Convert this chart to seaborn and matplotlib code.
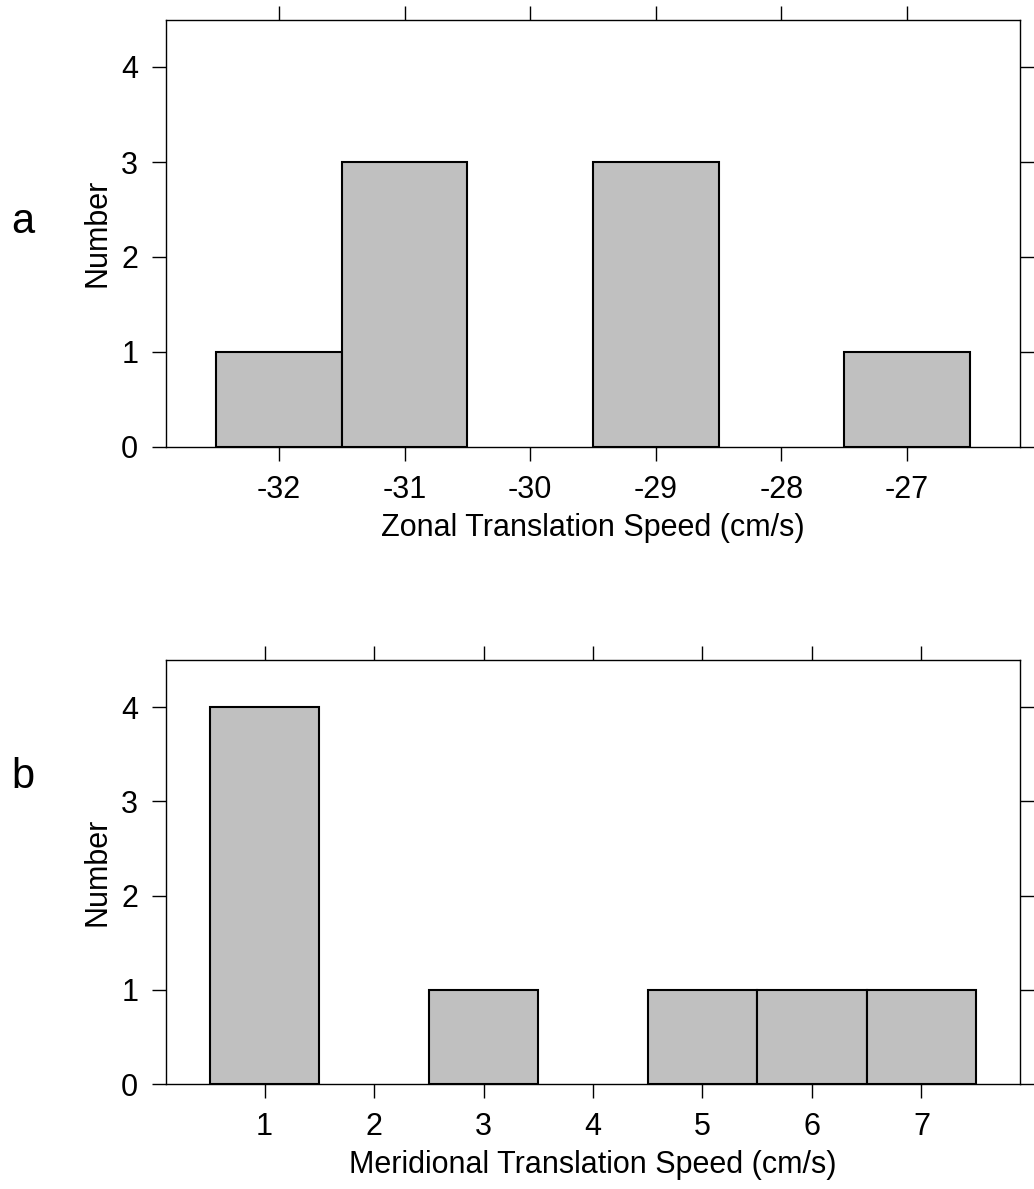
import matplotlib
matplotlib.use("Agg")
import matplotlib.pyplot as plt
import seaborn as sns
import pandas as pd

zonal_speed = [-32, -31, -30, -29, -28, -27]
zonal_count = [1, 3, 0, 3, 0, 1]
merid_speed = [1, 2, 3, 4, 5, 6, 7]
merid_count = [4, 0, 1, 0, 1, 1, 1]

sns.set_theme(style="white")
plt.rcParams['font.family'] = ['Liberation Sans', 'DejaVu Sans']
plt.rcParams.update({"text.color": "black", "axes.labelcolor": "black",
                     "xtick.color": "black", "ytick.color": "black"})

fig = plt.figure(figsize=(10.34, 11.89), dpi=100)
W, H = 1034, 1189

def make_ax(left, right, top, bottom):
    return fig.add_axes([left / W, 1 - bottom / H, (right - left) / W, (bottom - top) / H])

ax1 = make_ax(166, 1020, 19.5, 447)
ax2 = make_ax(166, 1020, 660, 1084)

panels = [
    (ax1, zonal_speed, zonal_count, "Zonal Translation Speed (cm/s)", "a", (-32.9, -26.1), 222),
    (ax2, merid_speed, merid_count, "Meridional Translation Speed (cm/s)", "b", (0.1, 7.9), 777),
]

fs = 22
for ax, xs, cs, xlabel, tag, xlim, tag_y in panels:
    df = pd.DataFrame({"x": xs, "n": cs})
    sns.histplot(data=df, x="x", weights="n", discrete=True, ax=ax,
                 color="#c0c0c0", edgecolor="black", linewidth=1.5, alpha=1)
    for p in list(ax.patches):
        if p.get_height() == 0:
            p.remove()
    ax.set_xlim(*xlim)
    ax.set_ylim(0, 4.5)
    ax.set_xticks(xs)
    ax.set_xticklabels([str(v) for v in xs])
    ax.set_yticks([0, 1, 2, 3, 4])
    ax.tick_params(axis="both", which="both", direction="out", length=10, width=1,
                   color="black", labelcolor="black", labelsize=fs, top=True, right=True,
                   bottom=True, left=True, labeltop=False, labelright=False, pad=10)
    for s in ax.spines.values():
        s.set_visible(True)
        s.set_color("black")
        s.set_linewidth(1)
    ax.set_xlabel(xlabel, fontsize=fs, labelpad=6, color="black")
    ax.set_ylabel("Number", fontsize=fs, labelpad=6, color="black")
    ax.grid(False)
    fig.text(23 / W, 1 - tag_y / H, tag, fontsize=30, ha="center", va="center", color="black")

fig.savefig("out.png", dpi=100, facecolor="white")
